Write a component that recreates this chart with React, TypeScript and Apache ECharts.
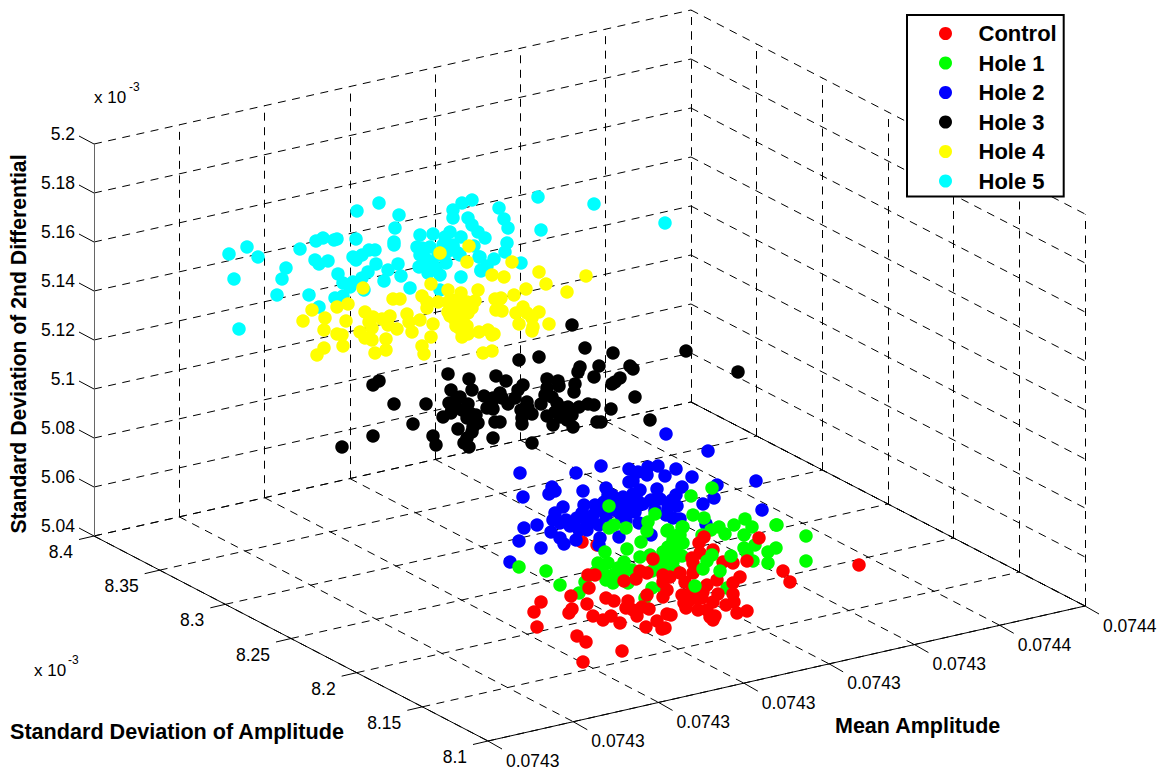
import React, { useEffect, useRef } from "react";
import * as echarts from "echarts";

type P = [number, number];

const seriesNames = ["Control", "Hole 1", "Hole 2", "Hole 3", "Hole 4", "Hole 5"];
const zTickLabels = ["5.04", "5.06", "5.08", "5.1", "5.12", "5.14", "5.16", "5.18", "5.2"];
const yTickLabels = ["8.4", "8.35", "8.3", "8.25", "8.2", "8.15", "8.1"];
const xTickLabels = ["0.0743", "0.0743", "0.0743", "0.0743", "0.0743", "0.0743", "0.0744", "0.0744"];

// Projected positions of the points
const controlBack: P[] = [[582,542],[597,545]];
const control: P[] = [[859,565],[783,571],[790,582],[759,538],[699,543],[704,537],[713,550],[700,553],[692,558],[693,563],[693,573],[653,559],[640,571],[647,573],[636,579],[624,581],[663,575],[663,582],[670,577],[680,573],[685,582],[667,590],[663,597],[647,595],[595,575],[588,575],[589,588],[571,596],[541,602],[534,612],[572,609],[569,613],[587,604],[606,598],[614,601],[593,616],[603,620],[611,616],[620,623],[628,601],[626,608],[633,610],[637,616],[642,607],[649,609],[646,627],[657,621],[667,614],[671,615],[662,629],[665,628],[537,627],[577,636],[586,642],[622,651],[583,662],[682,595],[684,603],[686,608],[697,598],[702,598],[698,610],[707,585],[707,610],[713,602],[718,594],[717,580],[733,583],[740,577],[733,594],[734,602],[726,605],[747,611],[737,613],[710,617],[713,620],[715,616],[723,562],[733,563],[747,561],[692,590],[690,600],[703,592]];
const hole1: P[] = [[712,488],[691,496],[609,506],[655,514],[648,522],[647,531],[693,515],[704,518],[614,525],[609,528],[626,528],[667,531],[683,527],[678,535],[711,530],[719,527],[725,534],[734,525],[745,519],[752,527],[744,535],[776,525],[641,542],[627,549],[683,543],[668,547],[663,552],[806,536],[806,561],[777,525],[776,548],[768,552],[768,563],[755,545],[744,548],[747,553],[753,561],[519,567],[546,571],[560,585],[585,582],[579,593],[605,552],[598,563],[608,563],[624,562],[624,572],[613,575],[613,583],[603,573],[628,583],[640,557],[650,555],[652,571],[652,588],[645,598],[663,588],[727,588],[670,548],[677,553],[667,557],[673,562],[668,565],[665,552],[673,540],[668,530],[682,527],[680,535],[702,535],[676,545],[661,560],[682,556],[675,570],[662,568],[655,562],[618,568],[632,570],[596,572],[606,580]];
const hole1Front: P[] = [[695,586],[731,556],[720,571],[712,555],[707,561],[703,569]];
const hole2: P[] = [[666,434],[708,451],[756,481],[762,510],[717,485],[714,498],[703,504],[706,524],[692,477],[676,469],[682,487],[676,495],[658,466],[648,467],[629,469],[638,472],[647,475],[665,476],[633,481],[629,482],[601,466],[576,473],[520,473],[552,487],[555,491],[549,494],[583,491],[523,497],[606,488],[608,495],[657,489],[660,499],[651,500],[633,494],[637,500],[623,497],[620,503],[628,505],[635,512],[628,513],[621,515],[677,506],[668,508],[666,515],[673,518],[680,519],[563,507],[555,513],[553,520],[560,523],[584,505],[595,505],[582,513],[577,518],[570,526],[587,530],[599,525],[606,516],[593,515],[524,528],[537,525],[551,532],[560,538],[564,544],[576,540],[519,541],[541,548],[510,562],[600,538],[599,545],[619,537],[639,523],[651,535],[566,520],[574,524],[586,520],[592,522],[579,530],[600,510],[612,500],[615,510],[626,520],[643,504],[655,510],[672,500],[612,495],[640,490],[604,502]];
const hole3: P[] = [[572,325],[686,351],[738,372],[585,348],[613,353],[539,357],[519,360],[448,374],[379,381],[373,385],[469,379],[496,376],[506,381],[580,367],[578,372],[599,366],[630,366],[633,369],[594,377],[620,378],[615,382],[612,384],[547,379],[558,381],[559,386],[575,384],[574,392],[635,397],[523,385],[518,390],[547,388],[545,395],[451,390],[472,390],[484,396],[500,393],[493,398],[502,398],[508,404],[515,398],[527,402],[541,404],[557,403],[563,408],[568,407],[579,407],[588,404],[594,405],[611,409],[394,404],[426,404],[460,397],[449,403],[468,404],[452,408],[487,408],[493,409],[470,413],[443,417],[451,413],[467,418],[521,410],[532,414],[522,418],[547,416],[560,417],[567,420],[573,427],[553,425],[522,424],[495,422],[500,422],[478,423],[473,427],[458,429],[472,432],[467,438],[464,443],[469,447],[493,438],[532,443],[597,422],[601,422],[650,420],[413,424],[373,436],[342,447],[433,436],[436,445],[476,415],[462,410],[456,400],[555,412],[572,415],[528,408],[492,402],[552,397]];
const hole4: P[] = [[440,253],[469,246],[467,262],[492,275],[504,277],[431,284],[363,288],[448,290],[461,293],[478,290],[422,296],[393,299],[400,299],[427,302],[427,308],[438,302],[448,302],[467,302],[475,301],[495,299],[501,298],[496,310],[502,311],[337,307],[348,304],[312,310],[303,321],[325,318],[346,321],[365,312],[324,330],[337,334],[342,335],[343,346],[324,348],[317,355],[360,332],[365,338],[372,340],[386,339],[386,350],[375,353],[369,322],[373,317],[372,328],[382,319],[390,316],[388,325],[397,329],[407,314],[409,322],[412,332],[420,320],[433,324],[431,337],[422,346],[424,354],[448,312],[457,315],[468,313],[455,320],[458,327],[462,332],[462,337],[468,334],[479,332],[488,330],[494,334],[483,353],[492,351],[512,262],[539,272],[586,276],[546,284],[567,292],[526,289],[514,295],[500,299],[523,307],[539,312],[516,313],[527,313],[532,318],[519,324],[549,324],[533,327],[532,331],[492,335],[452,307],[462,310],[450,316],[463,320],[456,326],[467,326],[472,308],[452,300],[460,305]];
const hole5: P[] = [[379,203],[357,211],[399,215],[395,228],[394,242],[394,245],[356,239],[323,238],[316,241],[334,240],[337,239],[300,249],[247,247],[229,254],[258,257],[286,268],[282,279],[234,279],[277,295],[239,329],[309,295],[319,307],[315,260],[319,264],[328,261],[353,257],[356,260],[362,255],[369,250],[375,250],[376,264],[398,264],[388,270],[401,276],[384,281],[368,272],[362,278],[353,282],[338,274],[343,283],[350,287],[343,296],[335,298],[364,290],[410,288],[420,235],[433,234],[450,232],[445,237],[461,237],[417,247],[422,248],[420,255],[430,247],[443,245],[453,245],[458,253],[419,267],[428,265],[428,273],[440,275],[446,263],[461,277],[440,290],[462,203],[472,200],[453,210],[453,218],[468,218],[472,225],[478,232],[485,238],[499,208],[504,219],[508,228],[474,246],[479,257],[494,259],[487,266],[481,271],[507,243],[505,252],[538,197],[594,204],[665,223],[541,230],[521,263],[480,257],[481,270],[453,247],[460,255],[438,255],[432,262],[425,258],[436,268],[447,252]];

const FONT = "'Liberation Sans', Arial, sans-serif";
const dash = [8, 6.5];

const A: P = [94, 536];
const B: P = [488, 741];
const C: P = [1085, 606];
const D: P = [691, 402];
const H = 392;

const lerp = (p: P, q: P, t: number): P => [p[0] + (q[0] - p[0]) * t, p[1] + (q[1] - p[1]) * t];
const up = (p: P, t: number): P => [p[0], p[1] - H * t];

const nx = xTickLabels.length - 1;
const ny = yTickLabels.length - 1;
const nz = zTickLabels.length - 1;
const xs = xTickLabels.map((_, i) => i / nx);
const ys = yTickLabels.map((_, i) => i / ny);
const zs = zTickLabels.map((_, i) => i / nz);

const dashed: P[][] = [];
const solid: P[][] = [[A, B], [B, C], [D, C]];
const greyAxis: P[][] = [[A, up(A, 1)]];
xs.forEach((t) => {
  dashed.push([lerp(A, D, t), lerp(B, C, t)]);
  dashed.push([lerp(A, D, t), up(lerp(A, D, t), 1)]);
  const p = lerp(B, C, t);
  solid.push([p, [p[0] + 14, p[1] + 8]]);
});
ys.forEach((t) => {
  dashed.push([lerp(A, B, t), lerp(D, C, t)]);
  dashed.push([lerp(D, C, t), up(lerp(D, C, t), 1)]);
  const p = lerp(A, B, t);
  solid.push([p, [p[0] - 15, p[1] + 3.5]]);
});
zs.forEach((t) => {
  dashed.push([up(A, t), up(D, t)]);
  dashed.push([up(D, t), up(C, t)]);
  const p = up(A, t);
  solid.push([p, [p[0] - 15, p[1] - 8]]);
});

const text = (s: string, x: number, y: number, fontSize = 17.5, align = "left", fontWeight = "normal", rotation = 0) => ({
  type: "text",
  x,
  y,
  rotation,
  silent: true,
  style: { text: s, fontFamily: FONT, fontSize, fontWeight, fill: "#000", align, verticalAlign: "middle" },
});

const dots = (name: string, color: string, data: P[]) => ({
  type: "scatter",
  name,
  data,
  symbol: "circle",
  symbolSize: 13.5,
  itemStyle: { color, opacity: 1 },
  silent: true,
  z: 3,
});

export default function App() {
  const ref = useRef<HTMLDivElement>(null);
  useEffect(() => {
    const chart = echarts.init(ref.current!, undefined, { renderer: "svg" });
    const labels: any[] = [];
    zs.forEach((t, i) => {
      const p = up(A, t);
      labels.push(text(zTickLabels[i], 75, p[1] - 10, 17.5, "right"));
    });
    ys.forEach((t, i) => {
      const p = lerp(A, B, t);
      labels.push(text(yTickLabels[i], p[0] - 21, p[1] + 16, 17.5, "right"));
    });
    xs.forEach((t, i) => {
      const p = lerp(B, C, t);
      labels.push(text(xTickLabels[i], p[0] + 18, p[1] + 19.5));
    });
    labels.push(text("x 10", 94, 97, 17));
    labels.push(text("-3", 129, 87, 12));
    labels.push(text("x 10", 34, 670, 17));
    labels.push(text("-3", 68, 660, 12));
    labels.push(text("Standard Deviation of Amplitude", 10, 731, 21.6, "left", "bold"));
    labels.push(text("Mean Amplitude", 835, 726, 21.5, "left", "bold"));
    labels.push(text("Standard Deviation of 2nd Differential", 18, 344, 21.2, "center", "bold", Math.PI / 2));

    chart.setOption({
      animation: false,
      backgroundColor: "#fff",
      grid: { left: 0, right: 0, top: 0, bottom: 0 },
      xAxis: { type: "value", min: 0, max: 1165, show: false },
      yAxis: { type: "value", min: 0, max: 770, inverse: true, show: false },
      legend: {
        show: true,
        left: 907,
        top: 15,
        orient: "vertical",
        data: seriesNames.map((name) => ({ name, icon: "circle" })),
        itemWidth: 56,
        itemHeight: 13,
        itemGap: 6.5,
        padding: [7, 7, 4, 32],
        backgroundColor: "#fff",
        borderColor: "#000",
        borderWidth: 2,
        selectedMode: false,
        textStyle: { fontFamily: FONT, fontSize: 22, fontWeight: "bold", color: "#000", lineHeight: 23 },
      },
      graphic: labels,
      series: [
        {
          type: "lines",
          coordinateSystem: "cartesian2d",
          silent: true,
          z: 1,
          lineStyle: { color: "#000", width: 1, type: dash, opacity: 1 },
          data: dashed.map((coords) => ({ coords })),
        },
        {
          type: "lines",
          coordinateSystem: "cartesian2d",
          silent: true,
          z: 1,
          lineStyle: { color: "#000", width: 1, type: "solid", opacity: 1 },
          data: solid.map((coords) => ({ coords })),
        },
        {
          type: "lines",
          coordinateSystem: "cartesian2d",
          silent: true,
          z: 1,
          lineStyle: { color: "#666", width: 1, type: "solid", opacity: 1 },
          data: greyAxis.map((coords) => ({ coords })),
        },
        dots("Control", "#ff0000", controlBack),
        dots("Hole 2", "#0000ff", hole2),
        dots("Hole 1", "#00ff00", hole1),
        dots("Control", "#ff0000", control),
        dots("Hole 1", "#00ff00", hole1Front),
        dots("Hole 3", "#000000", hole3),
        dots("Hole 5", "#00ffff", hole5),
        dots("Hole 4", "#ffff00", hole4),
      ],
    });
    return () => chart.dispose();
  }, []);
  return <div ref={ref} style={{ position: "fixed", left: 0, top: 0, width: 1165, height: 770 }} />;
}
